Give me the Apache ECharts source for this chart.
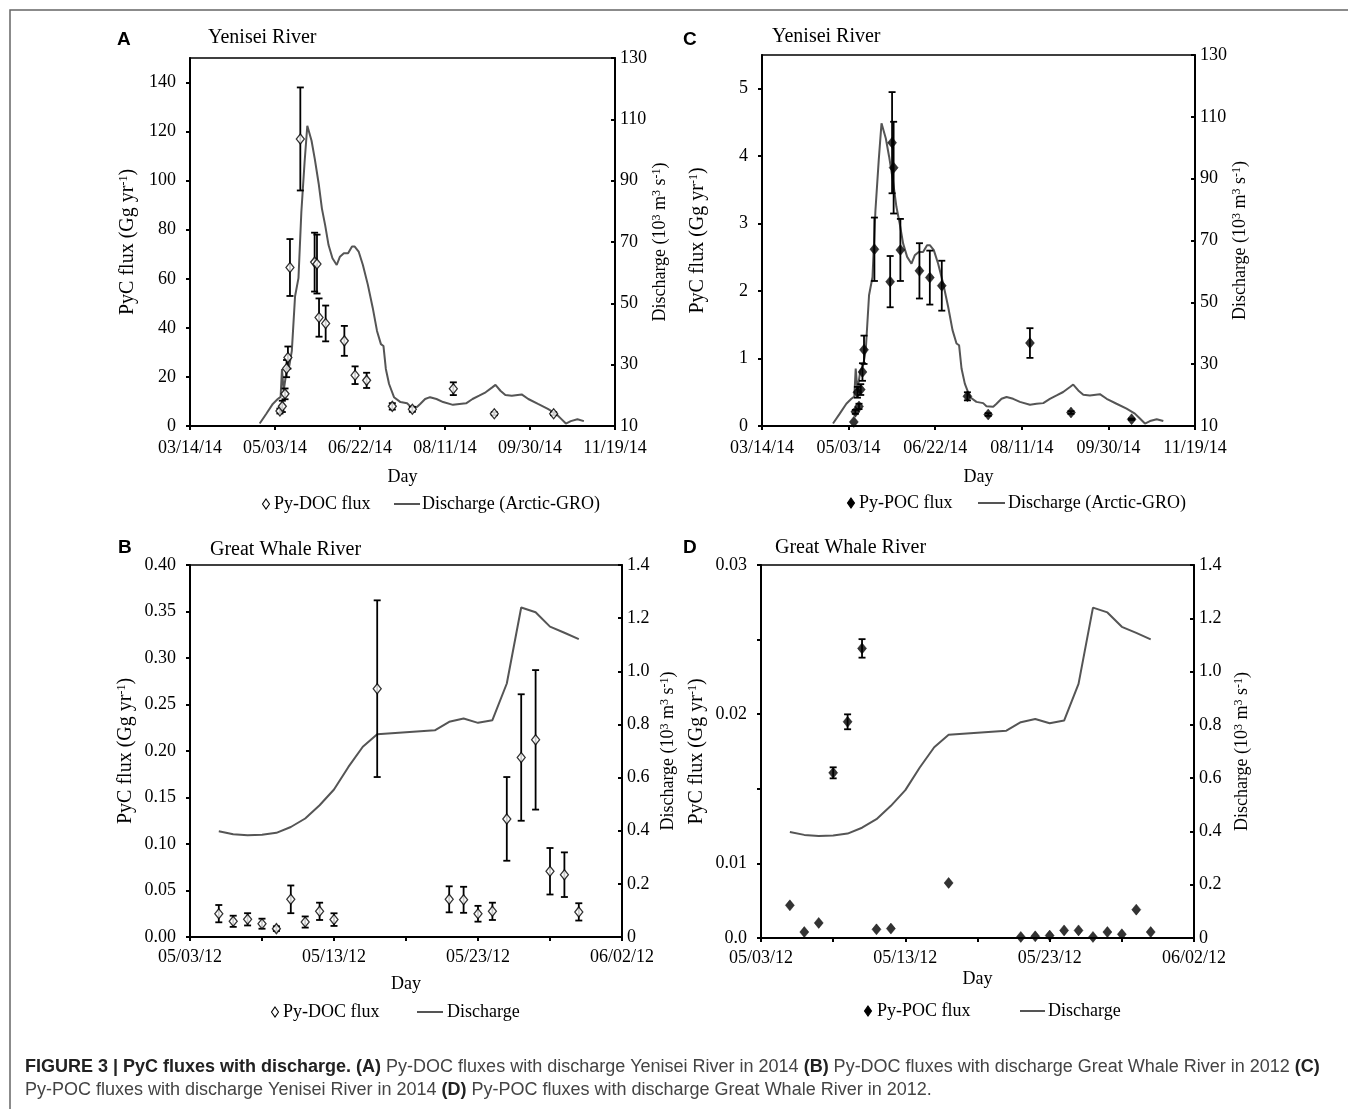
<!DOCTYPE html>
<html><head><meta charset="utf-8">
<script src="https://cdn.jsdelivr.net/npm/echarts@6/dist/echarts.min.js"></script>
<style>html,body{margin:0;padding:0;background:#fff}#c{width:1348px;height:1109px}</style>
</head><body><div id="c"></div>
<script>
// ---------- Yenisei River 2014 (days after 03/14/14) ----------
const yenTickLabels = ['03/14/14','05/03/14','06/22/14','08/11/14','09/30/14','11/19/14'];
const yenDisDay = [41,44.9,48.7,51.6,53.3,54.1,55.1,56.8,58.4,59.9,61.8,63.8,65.5,67.4,69,69.9,71.5,73.4,75.7,77.6,79.5,81.5,83.8,86.3,88.2,90.5,93,95.3,96.9,99.2,101.7,104.6,107.5,110,112.3,113.8,115.2,117.1,120,123.8,127.7,129.6,133.5,135.4,138.3,141.2,145,148.9,154.7,158.5,162.4,166.2,170.1,173.9,177.8,179.7,182.6,185.5,189.3,195.1,199,204.7,210.5,215.3,218.2,221.1,224,227.9,231.7];
const yenDis = [10.8,14,17.2,18.8,19.5,28.6,21.5,28,29.6,34.5,52.3,58.2,79.8,96,107.9,107.3,103,97.1,89,80.9,75.5,69,64.7,62.5,65.2,66.3,66.3,68.5,68.5,66.9,62.5,56.1,48.5,41,36.7,36.1,28.6,23.7,19.4,17.8,17.4,16.4,16.2,17.2,18.8,19.4,18.8,17.8,16.9,17.2,17.4,18.8,19.9,21,22.6,23.4,21.5,20.1,19.9,20.3,18.8,17.2,15.6,14,12.4,10.8,11.6,12.2,11.6];

const docYenDay = [52.9,54.3,55.9,56.8,57.6,58.8,64.9,73.3,74.7,75.9,79.8,90.8,97.1,103.9,119,130.8,154.9,179,213.9];
const docYenFlux = [6.1,8.0,13.1,23.4,27.9,64.6,117,66.8,66,44.2,41.8,34.7,20.7,18.6,8.0,6.8,15.2,5.0,5.0];
const docYenErr = [1.0,2.3,2.2,3.5,4.5,11.6,21,12,12,7.8,7.3,6.1,3.6,3.1,1.3,1.0,2.6,0.6,0.6];

const pocYenDay = [53,53.9,55.1,56,57,58,58.9,64.9,74,75.1,76,79.9,90.9,96.9,103.8,118.6,130.6,154.7,178.4,213.4];
const pocYenFlux = [0.06,0.21,0.5,0.29,0.54,0.8,1.13,2.62,2.14,4.2,3.83,2.61,2.3,2.2,2.08,0.44,0.17,1.23,0.2,0.1];
const pocYenErr = [0,0.03,0.08,0.04,0.08,0.13,0.21,0.47,0.38,0.75,0.68,0.46,0.41,0.4,0.37,0.06,0.02,0.22,0.02,0.01];

// ---------- Great Whale River 2012 (days after 05/03/12) ----------
const gwTickLabels = ['05/03/12','05/13/12','05/23/12','06/02/12'];
const gwDisDay = [2,3,4,5,6,7,8,9,10,11,12,13,17,18,19,20,21,22,23,24,25,26,27];
const gwDis = [0.398,0.387,0.383,0.385,0.392,0.414,0.446,0.496,0.555,0.64,0.716,0.763,0.778,0.81,0.822,0.806,0.816,0.954,1.240,1.222,1.168,1.145,1.121];

const docGwDay = [2,3,4,5,6,7,8,9,10,13,18,19,20,21,22,23,24,25,26,27];
const docGwFlux = [0.0251,0.0169,0.019,0.0143,0.009,0.0405,0.0161,0.0276,0.0187,0.267,0.0405,0.040,0.025,0.0276,0.127,0.193,0.212,0.0707,0.067,0.027];
const docGwErr = [0.0093,0.006,0.0066,0.0054,0.0025,0.0149,0.006,0.0093,0.0068,0.095,0.014,0.014,0.0085,0.0093,0.045,0.068,0.075,0.025,0.024,0.0093];

const pocGwDay = [2,3,4,5,6,7,8,9,13,18,19,20,21,22,23,24,25,26,27];
const pocGwFlux = [0.00219,0.0004,0.00101,0.01107,0.01449,0.01941,0.00058,0.00063,0.00369,0.00007,0.00011,0.00016,0.00051,0.00051,0.00007,0.0004,0.00025,0.0019,0.0004];
const pocGwErr = [0,0,0,0.00037,0.0005,0.00062,0,0,0,0,0,0,0,0,0,0,0,0,0];
const pocGwTickText = {0:'0.0', 5:'0.01', 15:'0.02', 25:'0.03'};

// ---------- helpers ----------
const SERIF = '"Liberation Serif","Times New Roman",serif';
const SANS = '"Liberation Sans",Arial,sans-serif';
const zip2 = (a,b) => a.map((v,i)=>[v,b[i]]);
const zip3 = (a,b,c) => a.map((v,i)=>[v,b[i],c[i]]);

function errRender(params, api){
  const x = api.value(0), y = api.value(1), e = api.value(2);
  if (!(e > 0)) return null;
  const t = api.coord([x, y + e]), b = api.coord([x, y - e]);
  const w = 3.5, st = {stroke:'#000', lineWidth:1.8};
  return {type:'group', children:[
    {type:'line', shape:{x1:t[0],y1:t[1],x2:b[0],y2:b[1]}, style:st},
    {type:'line', shape:{x1:t[0]-w,y1:t[1],x2:t[0]+w,y2:t[1]}, style:st},
    {type:'line', shape:{x1:b[0]-w,y1:b[1],x2:b[0]+w,y2:b[1]}, style:st}
  ]};
}

const axLine = {show:true, lineStyle:{color:'#000', width:2}};
const lbl = {color:'#000', fontFamily:SERIF, fontSize:18};
const supRich = {s:{fontFamily:SERIF, fontSize:12, verticalAlign:'top', color:'#000'}};

function xAxisYen(gi){
  return {type:'value', gridIndex:gi, min:0, max:250, interval:50,
    axisLine:axLine, axisTick:{show:true, length:4, lineStyle:{color:'#000', width:2}},
    splitLine:{show:false},
    axisLabel:Object.assign({margin:13, formatter:v=>yenTickLabels[Math.round(v/50)]||''}, lbl),
    name:'Day', nameLocation:'middle', nameGap:42, nameTextStyle:{fontFamily:SERIF, fontSize:18, color:'#000'}};
}
function xAxisGw(gi, gap){
  return {type:'value', gridIndex:gi, min:0, max:30, interval:5,
    axisLine:axLine, axisTick:{show:true, length:4, lineStyle:{color:'#000', width:2}},
    splitLine:{show:false},
    axisLabel:Object.assign({margin:11, formatter:v=>(v%10===0 ? gwTickLabels[v/10] : '')}, lbl),
    name:'Day', nameLocation:'middle', nameGap:gap, nameTextStyle:{fontFamily:SERIF, fontSize:18, color:'#000'}};
}
function yLeft(gi, min, max, interval, fmt, gap, showMax){
  return {type:'value', gridIndex:gi, position:'left', min:min, max:max, interval:interval,
    axisLine:axLine, axisTick:{show:true, length:4, lineStyle:{color:'#000', width:2}},
    splitLine:{show:false},
    axisLabel:Object.assign({margin:14, showMaxLabel:showMax, formatter:fmt}, lbl),
    name:'PyC flux (Gg yr{s|-1})', nameLocation:'middle', nameGap:gap,
    nameTextStyle:{fontFamily:SERIF, fontSize:20, color:'#000', rich:supRich}};
}
function yRight(gi, min, max, interval, fmt, gap){
  return {type:'value', gridIndex:gi, position:'right', min:min, max:max, interval:interval,
    axisLine:axLine, axisTick:{show:true, inside:true, length:4, lineStyle:{color:'#000', width:2}},
    splitLine:{show:false},
    axisLabel:Object.assign({margin:5, formatter:fmt}, lbl),
    name:'Discharge (10{s|3} m{s|3} s{s|-1})', nameLocation:'middle', nameGap:gap,
    nameTextStyle:{fontFamily:SERIF, fontSize:18, color:'#000', rich:supRich}};
}

function panelSeries(gi, disName, disData, fluxName, fluxData, errData, filled, size){
  return [
    {type:'line', name:disName, xAxisIndex:gi, yAxisIndex:2*gi+1, data:disData,
     showSymbol:false, symbol:'none', lineStyle:{color:'#555', width:2}, z:1, silent:true},
    {type:'custom', name:fluxName+' err', xAxisIndex:gi, yAxisIndex:2*gi, data:errData,
     renderItem:errRender, encode:{x:0, y:1}, z:2, silent:true},
    {type:'scatter', name:fluxName, xAxisIndex:gi, yAxisIndex:2*gi, data:fluxData,
     symbol:'diamond', symbolSize:size,
     itemStyle: filled ? {color:'#000', borderColor:'#000', borderWidth:0.5}
                       : {color:'#fff', borderColor:'#000', borderWidth:1.3},
     z:3, silent:true}
  ];
}

function legendGroup(y, dx, tx, lx1, lx2, t2x, filled, fluxName, disName){
  const d = 4;
  return [
    {type:'polygon', shape:{points:[[dx,y-d-1],[dx+d-0.5,y],[dx,y+d+1],[dx-d+0.5,y]]},
     style:{fill: filled ? '#000' : '#fff', stroke:'#000', lineWidth:1.1}},
    {type:'text', x:tx, y:y, style:{text:fluxName, font:'18px '+SERIF, fill:'#000', align:'left', verticalAlign:'middle'}},
    {type:'line', shape:{x1:lx1, y1:y, x2:lx2, y2:y}, style:{stroke:'#555', lineWidth:2}},
    {type:'text', x:t2x, y:y, style:{text:disName, font:'18px '+SERIF, fill:'#000', align:'left', verticalAlign:'middle'}}
  ];
}
function label(x, y, text, font){
  return {type:'text', x:x, y:y, style:{text:text, font:font, fill:'#000', align:'left', verticalAlign:'middle'}};
}

const chart = echarts.init(document.getElementById('c'), null, {renderer:'canvas'});
const option = {
  animation:false,
  backgroundColor:'#fff',
  grid:[
    {left:190, top:58, width:425, height:368, show:true, borderColor:'#000', borderWidth:1.5, containLabel:false},
    {left:190, top:565, width:432, height:372, show:true, borderColor:'#000', borderWidth:1.5, containLabel:false},
    {left:762, top:55, width:433, height:371, show:true, borderColor:'#000', borderWidth:1.5, containLabel:false},
    {left:761, top:565, width:433, height:373, show:true, borderColor:'#000', borderWidth:1.5, containLabel:false}
  ],
  xAxis:[ xAxisYen(0), xAxisGw(1, 38), xAxisYen(2), xAxisGw(3, 32) ],
  yAxis:[
    yLeft(0, 0, 150, 20, v=>String(v), 52, false),
    yRight(0, 10, 130, 20, v=>String(v), 36),
    yLeft(1, 0, 0.4, 0.05, v=>v.toFixed(2), 54, true),
    yRight(1, 0, 1.4, 0.2, v=>(v===0?'0':v.toFixed(1)), 37),
    yLeft(2, 0, 5.5, 1, v=>String(v), 54, false),
    yRight(2, 10, 130, 20, v=>String(v), 35),
    yLeft(3, 0, 0.025, 0.005, v=>(pocGwTickText[Math.round(v*1000)]||''), 54, true),
    yRight(3, 0, 1.4, 0.2, v=>(v===0?'0':v.toFixed(1)), 39)
  ],
  series:[].concat(
    panelSeries(0, 'Discharge (Arctic-GRO)', zip2(yenDisDay, yenDis), 'Py-DOC flux', zip2(docYenDay, docYenFlux), zip3(docYenDay, docYenFlux, docYenErr), false, [8,10]),
    panelSeries(1, 'Discharge', zip2(gwDisDay, gwDis), 'Py-DOC flux', zip2(docGwDay, docGwFlux), zip3(docGwDay, docGwFlux, docGwErr), false, [8,10]),
    panelSeries(2, 'Discharge (Arctic-GRO)', zip2(yenDisDay, yenDis), 'Py-POC flux', zip2(pocYenDay, pocYenFlux), zip3(pocYenDay, pocYenFlux, pocYenErr), true, [9,11]),
    panelSeries(3, 'Discharge', zip2(gwDisDay, gwDis), 'Py-POC flux', zip2(pocGwDay, pocGwFlux), zip3(pocGwDay, pocGwFlux, pocGwErr), true, [9,11])
  ),
  graphic:[].concat(
    [{type:'polyline', shape:{points:[[10,1109],[10,10],[1348,10]]}, style:{stroke:'#666', lineWidth:1.5, fill:null}}],
    [label(117,40,'A','bold 19px '+SANS), label(208,38,'Yenisei River','20px '+SERIF),
     label(683,40,'C','bold 19px '+SANS), label(772,37,'Yenisei River','20px '+SERIF),
     label(118,548,'B','bold 19px '+SANS), label(210,550,'Great Whale River','20px '+SERIF),
     label(683,548,'D','bold 19px '+SANS), label(775,548,'Great Whale River','20px '+SERIF)],
    legendGroup(504, 266, 274, 394, 420, 422, false, 'Py-DOC flux', 'Discharge (Arctic-GRO)'),
    legendGroup(503, 851, 859, 978, 1005, 1008, true, 'Py-POC flux', 'Discharge (Arctic-GRO)'),
    legendGroup(1012, 275, 283, 417, 443, 447, false, 'Py-DOC flux', 'Discharge'),
    legendGroup(1011, 868, 877, 1020, 1045, 1048, true, 'Py-POC flux', 'Discharge'),
    [{type:'text', x:25, y:1067, style:{
        text:'{b|FIGURE 3 | PyC fluxes with discharge. (A)} Py-DOC fluxes with discharge Yenisei River in 2014 {b|(B)} Py-DOC fluxes with discharge Great Whale River in 2012 {b|(C)}',
        font:'18px '+SANS, fill:'#444', verticalAlign:'middle', align:'left',
        rich:{b:{fontFamily:SANS, fontSize:18, fontWeight:'bold', fill:'#222', color:'#222'}}}},
     {type:'text', x:25, y:1090, style:{
        text:'Py-POC fluxes with discharge Yenisei River in 2014 {b|(D)} Py-POC fluxes with discharge Great Whale River in 2012.',
        font:'18px '+SANS, fill:'#444', verticalAlign:'middle', align:'left',
        rich:{b:{fontFamily:SANS, fontSize:18, fontWeight:'bold', fill:'#222', color:'#222'}}}}]
  )
};
chart.setOption(option);
</script></body></html>
